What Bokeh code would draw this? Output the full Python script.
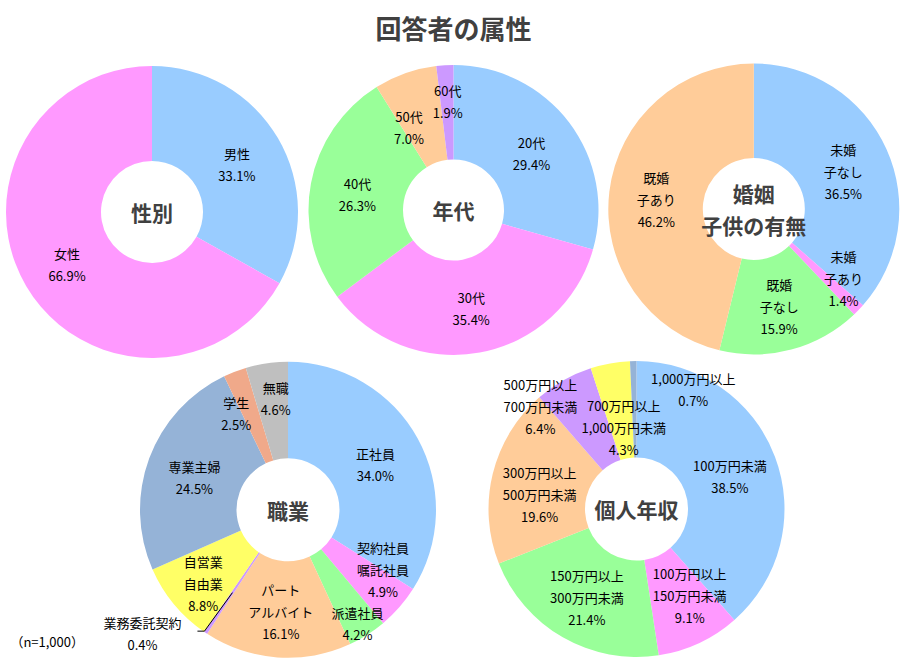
import math
from bokeh.plotting import figure
from bokeh.models import Range1d
from bokeh.core.properties import value
from bokeh.embed import file_html
from bokeh.resources import INLINE

# ---------------- data ----------------
title_text = "回答者の属性"
sample_note = "（n=1,000）"

gender_labels = ["男性", "女性"]
gender_values = [33.1, 66.9]

age_labels = ["20代", "30代", "40代", "50代", "60代"]
age_values = [29.4, 35.4, 26.3, 7.0, 1.9]

marital_labels = ["未婚\n子なし", "未婚\n子あり", "既婚\n子なし", "既婚\n子あり"]
marital_values = [36.5, 1.4, 15.9, 46.2]

job_labels = ["正社員", "契約社員\n嘱託社員", "派遣社員", "パート\nアルバイト",
              "業務委託契約", "自営業\n自由業", "専業主婦", "学生", "無職"]
job_values = [34.0, 4.9, 4.2, 16.1, 0.4, 8.8, 24.5, 2.5, 4.6]

income_labels = ["100万円未満", "100万円以上\n150万円未満", "150万円以上\n300万円未満",
                 "300万円以上\n500万円未満", "500万円以上\n700万円未満",
                 "700万円以上\n1,000万円未満", "1,000万円以上"]
income_values = [38.5, 9.1, 21.4, 19.6, 6.4, 4.3, 0.7]

# ---------------- styles ----------------
BLUE, PINK, GREEN, PEACH = "#99CCFF", "#FF99FF", "#99FF99", "#FFCC99"
LAV, YEL, STEEL, SALMON, GRAY = "#CC99FF", "#FFFF66", "#95B3D7", "#F0A98A", "#BFBFBF"

W, H = 905, 660
FONT = value("Noto Sans CJK JP")
LABEL_SIZE = "13px"
LINE_SP = 22.0
GLOBAL_DY = 2.5


def Y(ys):
    return H - ys


p = figure(width=W, height=H, output_backend="svg", toolbar_location=None,
           x_range=Range1d(0, W), y_range=Range1d(0, H), min_border=0)
p.axis.visible = False
p.grid.visible = False
p.outline_line_color = None
p.background_fill_color = "white"
p.border_fill_color = "white"


def draw_lines(x, y_center, text, size, color, bold=False, spacing=LINE_SP):
    lines = text.split("\n")
    k = len(lines)
    xs, ys = [], []
    for i, _ in enumerate(lines):
        xs.append(x)
        ys.append(Y(y_center + (i - (k - 1) / 2) * spacing))
    p.text(x=xs, y=ys, text=lines, text_font=FONT, text_font_size=size,
           text_color=color, text_align="center", text_baseline="middle",
           text_font_style="bold" if bold else "normal")


def donut(cx, cy, r_in, r_out, labels, values, colors, center_text,
          nudges=None, leaders=None, center_spacing=31.6):
    nudges = nudges or {}
    leaders = leaders or {}
    total = float(sum(values))
    starts, ends = [], []
    cum = 0.0
    for v in values:
        starts.append(math.pi / 2 - 2 * math.pi * (cum + v) / total)
        ends.append(math.pi / 2 - 2 * math.pi * cum / total)
        cum += v
    n = len(values)
    p.annular_wedge(x=[cx] * n, y=[Y(cy)] * n, inner_radius=r_in, outer_radius=r_out,
                    start_angle=starts, end_angle=ends, fill_color=colors,
                    line_color=None)
    r_mid = (r_in + r_out) / 2
    cum = 0.0
    for i, (lab, v) in enumerate(zip(labels, values)):
        mid = (cum + v / 2) / total * 2 * math.pi
        cum += v
        ax = cx + r_mid * math.sin(mid)
        ay = cy - r_mid * math.cos(mid)
        dx, dy = nudges.get(i, (0, 0))
        lx, ly = ax + dx, ay + GLOBAL_DY + dy
        draw_lines(lx, ly, f"{lab}\n{v:.1f}%", LABEL_SIZE, "#000000")
        if i in leaders:
            (ex, ey), (bx, by) = leaders[i]
            p.line(x=[ax, lx + bx, lx + ex], y=[Y(ay), Y(ly + by), Y(ly + ey)],
                   line_color="#000000", line_width=1)
    draw_lines(cx, cy, center_text, "21px", "#404040", bold=True, spacing=center_spacing)


# title
draw_lines(453, 27, title_text, "26px", "#404040", bold=True)

# top row
donut(151.5, 211.5, 51, 146, gender_labels, gender_values, [BLUE, PINK], "性別")
donut(453, 209.5, 50.5, 145, age_labels, age_values, [BLUE, PINK, GREEN, PEACH, LAV], "年代",
      nudges={3: (-12, 7), 4: (0, -13)})
donut(753.3, 208.5, 51, 145.5, marital_labels, marital_values, [BLUE, PINK, GREEN, PEACH],
      "婚姻\n子供の有無", nudges={1: (19, -1)})

# bottom row
donut(287.5, 509.3, 51.5, 148, job_labels, job_values,
      [BLUE, PINK, GREEN, PEACH, LAV, YEL, STEEL, SALMON, GRAY], "職業",
      nudges={1: (20, -9), 2: (16, 27), 4: (-90, 38), 5: (-8, 7.5), 7: (-16, -6), 8: (2, -15)},
      leaders={4: ((55, -2), (62, -2))})
donut(636, 508.5, 51.5, 148, income_labels, income_values,
      [BLUE, PINK, GREEN, PEACH, LAV, YEL, STEEL], "個人年収",
      nudges={1: (11, -6), 3: (0, 7), 4: (-47, -18), 5: (5, 14), 6: (59, -22)})

draw_lines(46.7, 641, sample_note, LABEL_SIZE, "#000000")

open("out.html", "w").write(file_html(p, INLINE))
